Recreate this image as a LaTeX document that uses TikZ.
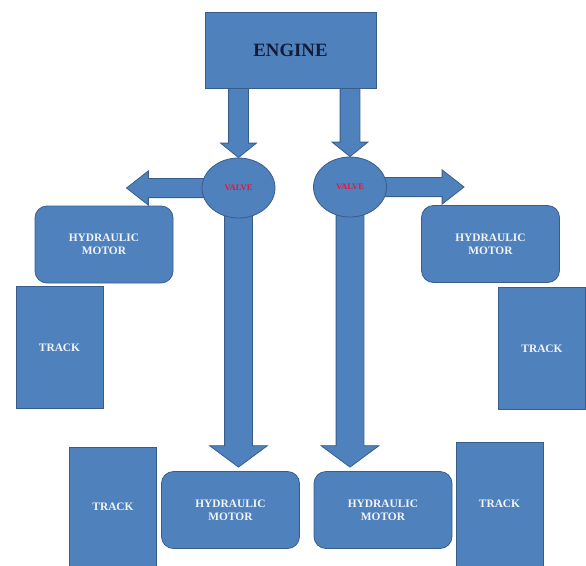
\documentclass[tikz,border=0pt]{standalone}
\usepackage{fontspec}
\setmainfont{Liberation Serif}
\usetikzlibrary{positioning,calc,shapes.geometric,shapes.arrows,backgrounds}

\definecolor{boxblue}{RGB}{79,129,189}
\definecolor{edgeblue}{RGB}{56,93,138}
\definecolor{boxtext}{RGB}{242,244,248}
\definecolor{enginetext}{RGB}{18,28,56}
\definecolor{valvered}{RGB}{222,24,64}

\tikzset{
	box/.style={draw=edgeblue, fill=boxblue, line width=0.8pt, inner sep=0pt, align=center,
		text=boxtext, font=\bfseries\fontsize{11.4}{13}\selectfont},
	engine/.style={box, minimum width=171pt, minimum height=76pt, text=enginetext,
		font=\bfseries\fontsize{18.8}{22}\selectfont},
	valve/.style={box, ellipse, minimum width=73pt, minimum height=60pt, text=valvered,
		font=\bfseries\fontsize{8.5}{9}\selectfont},
	motor/.style={box, rounded corners=12pt, minimum width=138pt, minimum height=77pt},
	track/.style={box, minimum width=87pt, minimum height=122pt},
	blockarrow/.style={single arrow, draw=edgeblue, fill=boxblue, line width=0.8pt,
		outer sep=0pt, single arrow head indent=0pt, anchor=tail},
	feed/.style={blockarrow, inner sep=9.5pt, single arrow head extend=8pt, single arrow tip angle=102},
	side/.style={blockarrow, inner sep=9.2pt, single arrow head extend=7.5pt, single arrow tip angle=76},
	drive/.style={blockarrow, inner sep=13.5pt, single arrow head extend=15pt, single arrow tip angle=107}
}

% block arrow from #3 to #4, named #2
\newcommand{\fatarrow}[4][]{%
	\path let \p1=(#3), \p2=(#4), \n1={atan2(\y2-\y1,\x2-\x1)}, \n2={veclen(\x2-\x1,\y2-\y1)} in
		node[#1, rotate=\n1, minimum height=\n2] (#2) at (\p1) {};%
}

\begin{document}
\begin{tikzpicture}[x=1pt, y=-1pt]
	\useasboundingbox (0,0) rectangle (586,565);
	\node[engine] (engine) at (290.5,50) {ENGINE};
	\node[valve] (valveL) at (238.5,188) {VALVE};
	\node[valve] (valveR) at (350,187) {VALVE};
	\node[motor] (motorL) at (104,244.5) {HYDRAULIC\\MOTOR};
	\node[motor] (motorR) at (490.5,244) {HYDRAULIC\\MOTOR};
	\node[track, below right=3pt and -19pt of motorL.south west] (trackL) {TRACK};
	\node[track, below left=4pt and -26pt of motorR.south east] (trackR) {TRACK};
	\node[motor] (motorBL) at (230.5,510) {HYDRAULIC\\MOTOR};
	\node[motor] (motorBR) at (383,510) {HYDRAULIC\\MOTOR};
	\node[track, minimum height=119pt] (trackBL) at (113,506.5) {TRACK};
	\node[track, minimum height=124pt] (trackBR) at (499.5,504) {TRACK};
	%
	\coordinate (tipL) at ($(valveL.center)+(-112,0)$);
	\coordinate (tipR) at ($(valveR.center)+(114,0)$);
	\coordinate (tipBL) at ($(valveL |- motorBL.north)+(0,-4)$);
	\coordinate (tipBR) at ($(valveR |- motorBR.north)+(0,-4)$);
	%
	\begin{pgfonlayer}{background}
		\fatarrow[feed]{feedL}{valveL |- engine.south}{valveL.north}
		\fatarrow[feed]{feedR}{valveR |- engine.south}{valveR.north}
		\fatarrow[side]{sideL}{valveL.center}{tipL}
		\fatarrow[side]{sideR}{valveR.center}{tipR}
		\fatarrow[drive]{driveL}{valveL.center}{tipBL}
		\fatarrow[drive]{driveR}{valveR.center}{tipBR}
	\end{pgfonlayer}
\end{tikzpicture}
\end{document}
